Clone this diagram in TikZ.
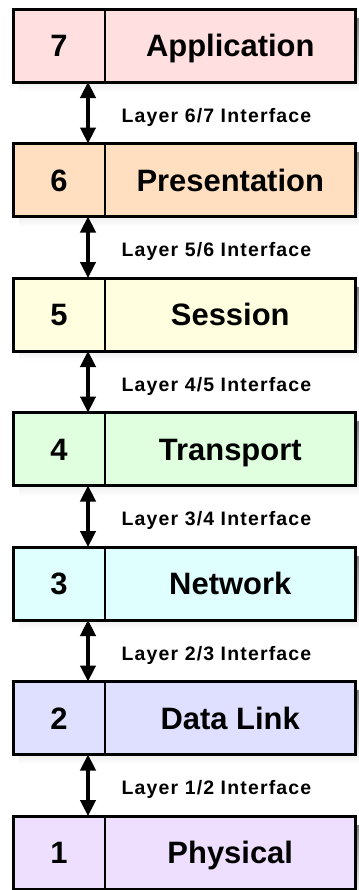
\documentclass[tikz,border=0pt]{standalone}
\usepackage{fontspec}
\setmainfont{Liberation Sans}
\newfontfamily\ifacefont[LetterSpace=6]{Liberation Sans}
\usetikzlibrary{arrows.meta,positioning,calc}

\definecolor{c7}{HTML}{FFDFDF}
\definecolor{c6}{HTML}{FFDFC0}
\definecolor{c5}{HTML}{FFFFE0}
\definecolor{c4}{HTML}{DFFFDF}
\definecolor{c3}{HTML}{DFFFFF}
\definecolor{c2}{HTML}{DFDFFF}
\definecolor{c1}{HTML}{EFDFFF}
\definecolor{shade}{HTML}{D8D8AC}

\tikzset{
  numcell/.style={minimum width=69pt, minimum height=54.75pt, inner sep=0pt, outer sep=0pt,
    text height=16.5pt, text depth=0pt, font=\bfseries\fontsize{23.2}{25}\selectfont},
  namecell/.style={numcell, minimum width=187.875pt},
  frame/.style={line width=2.25pt},
  divider/.style={line width=0.9pt},
  iface/.style={line width=2.4pt, {Triangle[width=11.5pt,length=12pt]}-{Triangle[width=11.5pt,length=12pt]}},
  ifacelabel/.style={anchor=west, inner sep=0pt, text height=10.4pt, text depth=0pt,
    font=\ifacefont\bfseries\fontsize{14.6}{16}\selectfont}
}

\begin{document}
\begin{tikzpicture}[x=0.75pt,y=-0.75pt]
  \useasboundingbox (0,0) rectangle (358,890);

  % layers, top to bottom
  \foreach \n/\name [count=\i from 0] in {7/Application,6/Presentation,5/Session,4/Transport,3/Network,2/Data Link,1/Physical} {
    \fill[shade] (19,18+134.5*\i) rectangle (365,92+134.5*\i);
    \node[numcell, fill=c\n] (num\n) at (59,45.5+134.5*\i) {\n};
    \node[namecell, fill=c\n, right=0pt of num\n] (name\n) {\name};
    \draw[frame] (num\n.north west) rectangle (name\n.south east);
    \draw[divider] (num\n.north east) -- (num\n.south east);
  }

  % interfaces
  \foreach \a/\b in {7/6,6/5,5/4,4/3,3/2,2/1} {
    \draw[iface] ($(num\a.south west)+(75,0)$) -- ($(num\b.north west)+(75,0)$)
      node[ifacelabel, midway, xshift=24pt, yshift=-1.8pt] {Layer \b/\a{} Interface};
  }
\end{tikzpicture}
\end{document}
